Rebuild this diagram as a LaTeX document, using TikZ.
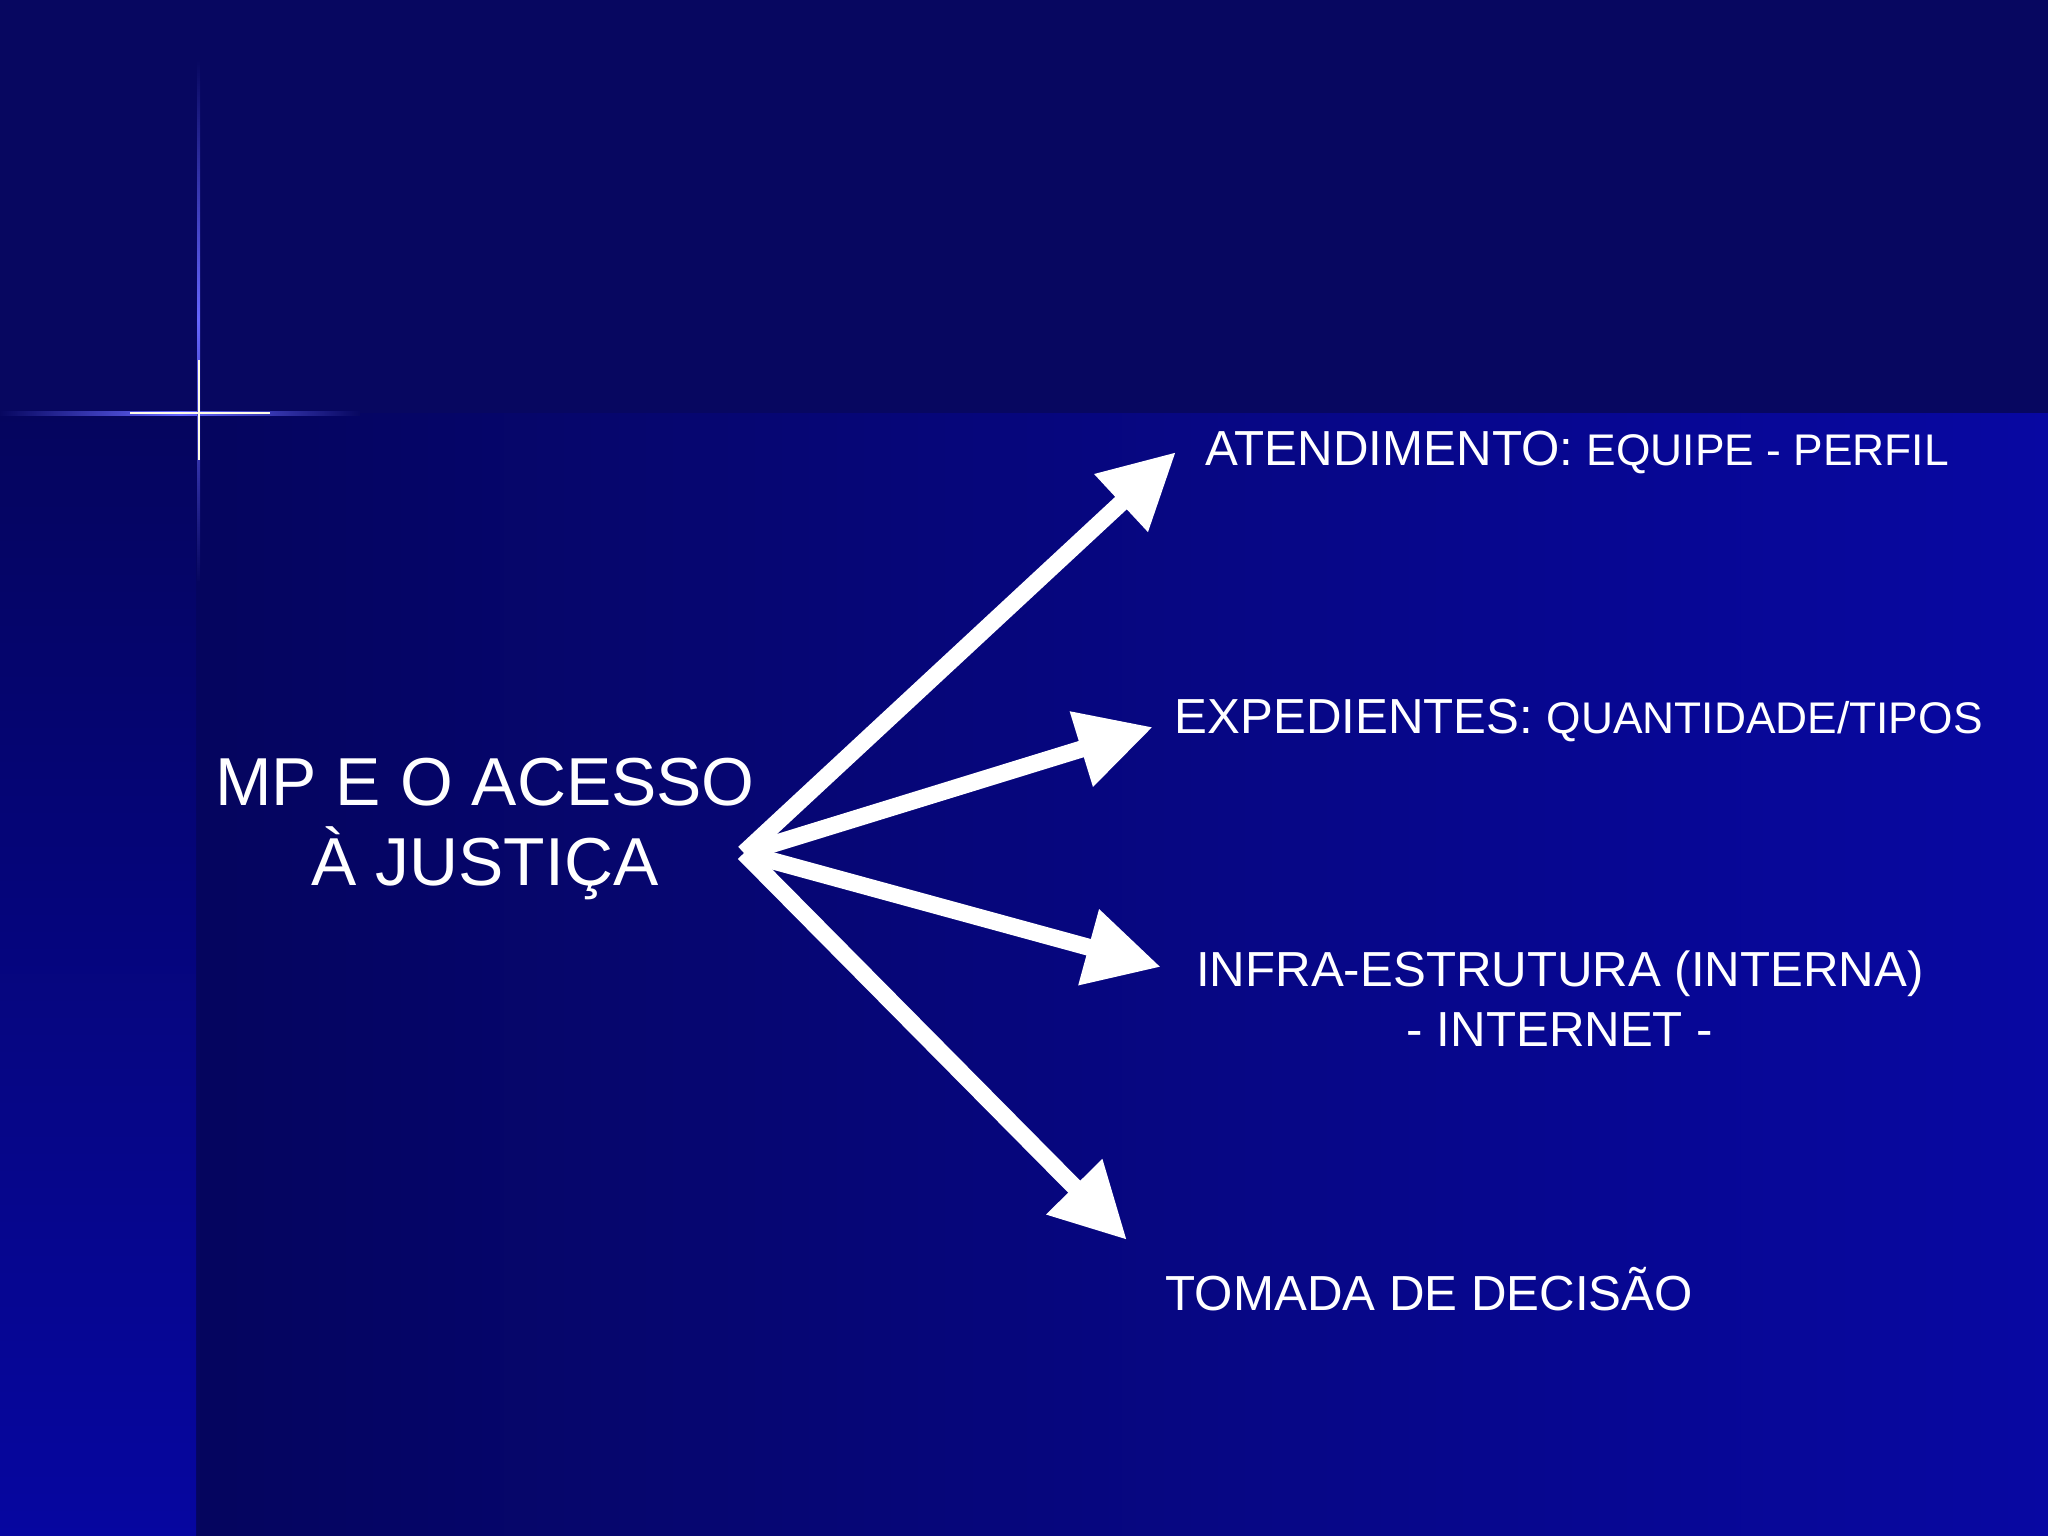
\documentclass[tikz,border=0pt]{standalone}
\usepackage{fontspec}
\setmainfont{Liberation Sans}
\usetikzlibrary{arrows.meta}
\definecolor{topc}{HTML}{070760}
\definecolor{darkb}{HTML}{05055E}
\definecolor{lightb}{HTML}{0808A2}
\definecolor{colc}{HTML}{0606A0}
\newcommand{\smtxt}{\fontsize{12.6pt}{15pt}\selectfont}
\tikzset{
  bigarrow/.style={white,line width=0.17cm,-{Triangle[length=0.75cm,width=0.74cm]}},
  lbl/.style={text=white,font=\fontsize{14pt}{17pt}\selectfont,anchor=west,inner sep=0pt}
}
\begin{document}
\begin{tikzpicture}[x=0.01cm,y=-0.01cm]
\useasboundingbox (0,0) rectangle (2048,1536);
\fill[topc] (0,0) rectangle (2048,413);
\shade[left color=darkb,right color=lightb] (196,413) rectangle (2048,1536);
\shade[top color=darkb,bottom color=colc] (0,413) rectangle (196,1536);
% cross flare
\shade[left color=topc,right color=topc,middle color=blue!60!white] (0,411) rectangle (360,415);
\shade[top color=topc,bottom color=topc,middle color=blue!60!white] (197,60) rectangle (200,580);
\fill[white!90!yellow] (130,412.3) rectangle (270,414.3);
\fill[white!90!yellow] (197.5,360) rectangle (199.5,460);
% nodes
\node[text=white,align=center,font=\fontsize{19.3pt}{23pt}\selectfont] (mp) at (485,829) {MP E O ACESSO\\À JUSTIÇA};
\coordinate (o) at (744,853);
\node[lbl] (a) at (1205,452) {ATENDIMENTO: {\smtxt EQUIPE - PERFIL}};
\node[lbl] (b) at (1174,720) {EXPEDIENTES: {\smtxt QUANTIDADE/TIPOS}};
\node[text=white,font=\fontsize{14pt}{17pt}\selectfont,align=center,inner sep=0pt] (c) at (1560,999) {INFRA-ESTRUTURA (INTERNA)\\- INTERNET -};
\node[lbl] (d) at (1165,1289) {TOMADA DE DECISÃO};
\coordinate (ta) at (1176,452);
\coordinate (tb) at (1153,727);
\coordinate (tc) at (1161,967);
\coordinate (td) at (1127,1240);
\draw[bigarrow] (o) -- (ta);
\draw[bigarrow] (o) -- (tb);
\draw[bigarrow] (o) -- (tc);
\draw[bigarrow] (o) -- (td);
\end{tikzpicture}
\end{document}
